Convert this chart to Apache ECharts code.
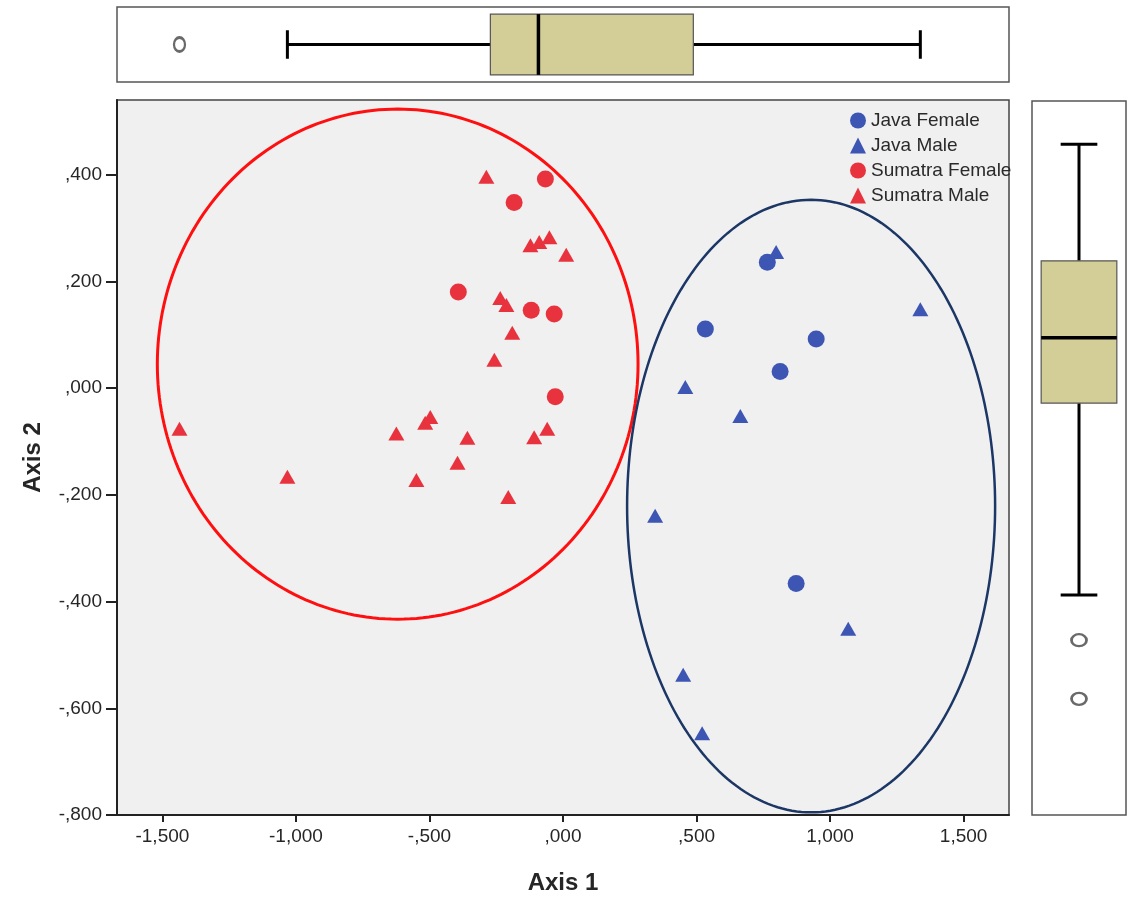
<!DOCTYPE html>
<html>
<head>
<meta charset="utf-8">
<script src="https://cdn.jsdelivr.net/npm/echarts@6/dist/echarts.min.js"></script>
<style>
  html, body { margin: 0; padding: 0; background: #fff; }
  #chart { width: 1128px; height: 901px; }
</style>
</head>
<body>
<div id="chart"></div>
<script>
// scatter points [axis 1, axis 2]
const javaFemale = [[0.765, 0.236], [0.533, 0.111], [0.948, 0.092], [0.813, 0.031], [0.873, -0.366]];
const javaMale = [[0.798, 0.255], [1.338, 0.148], [0.458, 0.002], [0.664, -0.052], [0.345, -0.239],
  [1.068, -0.451], [0.450, -0.537], [0.521, -0.647]];
const sumatraFemale = [[-0.066, 0.392], [-0.183, 0.348], [-0.392, 0.180], [-0.119, 0.146],
  [-0.033, 0.139], [-0.029, -0.016]];
const sumatraMale = [[-0.287, 0.396], [-0.051, 0.283], [-0.089, 0.274], [-0.122, 0.268], [0.012, 0.250],
  [-0.235, 0.169], [-0.212, 0.156], [-0.190, 0.104], [-0.257, 0.053], [-1.436, -0.076],
  [-1.032, -0.166], [-0.624, -0.085], [-0.497, -0.054], [-0.516, -0.065], [-0.358, -0.093],
  [-0.395, -0.140], [-0.549, -0.172], [-0.108, -0.092], [-0.059, -0.076], [-0.205, -0.204]];

// group ellipses: [centre x, centre y, radius x, radius y]
const ellipses = [[-0.619, 0.045, 0.900, 0.478], [0.929, -0.221, 0.689, 0.574]];

// marginal box plots: [lower whisker, Q1, median, Q3, upper whisker]
const axis1Box = [-1.032, -0.272, -0.092, 0.488, 1.338];
const axis1Outliers = [-1.436];
const axis2Box = [-0.387, -0.027, 0.0955, 0.240, 0.459];
const axis2Outliers = [-0.472, -0.582];

const xTicks = [-1.5, -1.0, -0.5, 0, 0.5, 1.0, 1.5];
const yTicks = [-0.8, -0.6, -0.4, -0.2, 0, 0.2, 0.4];

const BLUE = '#3d55b3';
const RED = '#e8333e';
const ellipseColors = ['#ff1010', '#1c3766'];

function fmt(v) {
  let s = Math.abs(v).toFixed(3).replace('.', ',');
  if (s.charAt(0) === '0') s = s.slice(1);
  return (v < -1e-9 ? '-' : '') + s;
}

// draws box, whiskers, caps and median for one box plot
function makeBox(horizontal, boxFrac, capFrac) {
  return function (params, api) {
    const at = v => api.coord(horizontal ? [v, 0.5] : [0.5, v]);
    const m = at(api.value(2));
    const centre = horizontal ? m[1] : m[0];
    const pos = i => { const p = at(api.value(i)); return horizontal ? p[0] : p[1]; };
    const span = horizontal ? api.size([0, 1])[1] : api.size([1, 0])[0];
    const bh = span * boxFrac / 2, ch = span * capFrac / 2;
    const P = (a, c) => horizontal ? [a, centre + c] : [centre + c, a];
    const seg = (a1, c1, a2, c2, w) => {
      const p1 = P(a1, c1), p2 = P(a2, c2);
      return { type: 'line', shape: { x1: p1[0], y1: p1[1], x2: p2[0], y2: p2[1] },
        style: { stroke: '#000', lineWidth: w } };
    };
    const lo = pos(0), q1 = pos(1), md = pos(2), q3 = pos(3), hi = pos(4);
    const r1 = P(q1, -bh), r2 = P(q3, bh);
    return {
      type: 'group',
      children: [
        seg(lo, 0, q1, 0, 3), seg(q3, 0, hi, 0, 3),
        seg(lo, -ch, lo, ch, 3), seg(hi, -ch, hi, ch, 3),
        { type: 'rect',
          shape: { x: Math.min(r1[0], r2[0]), y: Math.min(r1[1], r2[1]),
            width: Math.abs(r2[0] - r1[0]), height: Math.abs(r2[1] - r1[1]) },
          style: { fill: '#d3ce97', stroke: '#555', lineWidth: 1.2 } },
        seg(md, -bh, md, bh, 3.5)
      ]
    };
  };
}

const chart = echarts.init(document.getElementById('chart'));

const labelFont = { fontFamily: 'Liberation Sans', fontSize: 19, color: '#262626' };

const option = {
  animation: false,
  backgroundColor: '#fff',
  grid: [
    { left: 117, right: 119, top: 100, bottom: 86, show: true,
      backgroundColor: '#f0f0f0', borderColor: '#444', borderWidth: 1.5 },
    { left: 117, right: 119, top: 7, height: 75, show: true,
      backgroundColor: '#fff', borderColor: '#555', borderWidth: 1.5 },
    { left: 1032, right: 2, top: 101, bottom: 86, show: true,
      backgroundColor: '#fff', borderColor: '#555', borderWidth: 1.5 }
  ],
  xAxis: [
    { type: 'value', gridIndex: 0, min: -1.67, max: 1.67,
      name: 'Axis 1', nameLocation: 'middle', nameGap: 56,
      nameTextStyle: { fontFamily: 'Liberation Sans', fontSize: 24, fontWeight: 'bold', color: '#262626' },
      splitLine: { show: false },
      axisLine: { onZero: false, lineStyle: { color: '#222', width: 2 } },
      axisTick: { customValues: xTicks, length: 7, lineStyle: { color: '#222', width: 2 } },
      axisLabel: Object.assign({ customValues: xTicks, margin: 12, formatter: fmt }, labelFont) },
    { type: 'value', gridIndex: 1, min: -1.67, max: 1.67, show: false },
    { type: 'value', gridIndex: 2, min: 0, max: 1, show: false }
  ],
  yAxis: [
    { type: 'value', gridIndex: 0, min: -0.8, max: 0.54,
      name: 'Axis 2', nameLocation: 'middle', nameGap: 72,
      nameTextStyle: { fontFamily: 'Liberation Sans', fontSize: 24, fontWeight: 'bold', color: '#262626' },
      splitLine: { show: false },
      axisLine: { show: true, onZero: false, lineStyle: { color: '#222', width: 2 } },
      axisTick: { show: true, customValues: yTicks, length: 11, lineStyle: { color: '#222', width: 2 } },
      axisLabel: Object.assign({ customValues: yTicks, margin: 15, formatter: fmt }, labelFont) },
    { type: 'value', gridIndex: 1, min: 0, max: 1, show: false },
    { type: 'value', gridIndex: 2, min: -0.8, max: 0.54, show: false }
  ],
  legend: {
    orient: 'vertical', left: 845, top: 106,
    itemWidth: 16, itemHeight: 16, itemGap: 6,
    textStyle: { fontFamily: 'Liberation Sans', fontSize: 19, color: '#2a2a2a' },
    data: ['Java Female', 'Java Male', 'Sumatra Female', 'Sumatra Male']
  },
  series: [
    { type: 'custom', xAxisIndex: 0, yAxisIndex: 0, z: 1, silent: true,
      data: ellipses,
      renderItem: function (params, api) {
        const c = api.coord([api.value(0), api.value(1)]);
        const s = api.size([api.value(2), api.value(3)]);
        const pts = [];
        for (let k = 0; k < 240; k++) {
          const t = k / 240 * Math.PI * 2;
          pts.push([c[0] + s[0] * Math.cos(t), c[1] + s[1] * Math.sin(t)]);
        }
        return { type: 'polygon', shape: { points: pts },
          style: { fill: 'none', stroke: ellipseColors[params.dataIndex],
            lineWidth: params.dataIndex === 0 ? 3 : 2.5 } };
      } },
    { name: 'Java Female', type: 'scatter', data: javaFemale, symbol: 'circle', symbolSize: 17,
      itemStyle: { color: BLUE, opacity: 1 }, z: 3 },
    { name: 'Java Male', type: 'scatter', data: javaMale, symbol: 'triangle', symbolSize: [16, 14],
      itemStyle: { color: BLUE, opacity: 1 }, z: 3 },
    { name: 'Sumatra Female', type: 'scatter', data: sumatraFemale, symbol: 'circle', symbolSize: 17,
      itemStyle: { color: RED, opacity: 1 }, z: 3 },
    { name: 'Sumatra Male', type: 'scatter', data: sumatraMale, symbol: 'triangle', symbolSize: [16, 14],
      itemStyle: { color: RED, opacity: 1 }, z: 3 },
    { type: 'custom', xAxisIndex: 1, yAxisIndex: 1, silent: true,
      data: [axis1Box], renderItem: makeBox(true, 0.81, 0.38) },
    { type: 'scatter', xAxisIndex: 1, yAxisIndex: 1, silent: true,
      data: axis1Outliers.map(v => [v, 0.5]), symbol: 'circle', symbolSize: [11, 14],
      itemStyle: { color: '#fff', borderColor: '#444', borderWidth: 2.5 } },
    { type: 'custom', xAxisIndex: 2, yAxisIndex: 2, silent: true,
      data: [axis2Box], renderItem: makeBox(false, 0.805, 0.39) },
    { type: 'scatter', xAxisIndex: 2, yAxisIndex: 2, silent: true,
      data: axis2Outliers.map(v => [0.5, v]), symbol: 'circle', symbolSize: [15, 12],
      itemStyle: { color: '#fff', borderColor: '#444', borderWidth: 2.5 } }
  ]
};

chart.setOption(option);
</script>
</body>
</html>
